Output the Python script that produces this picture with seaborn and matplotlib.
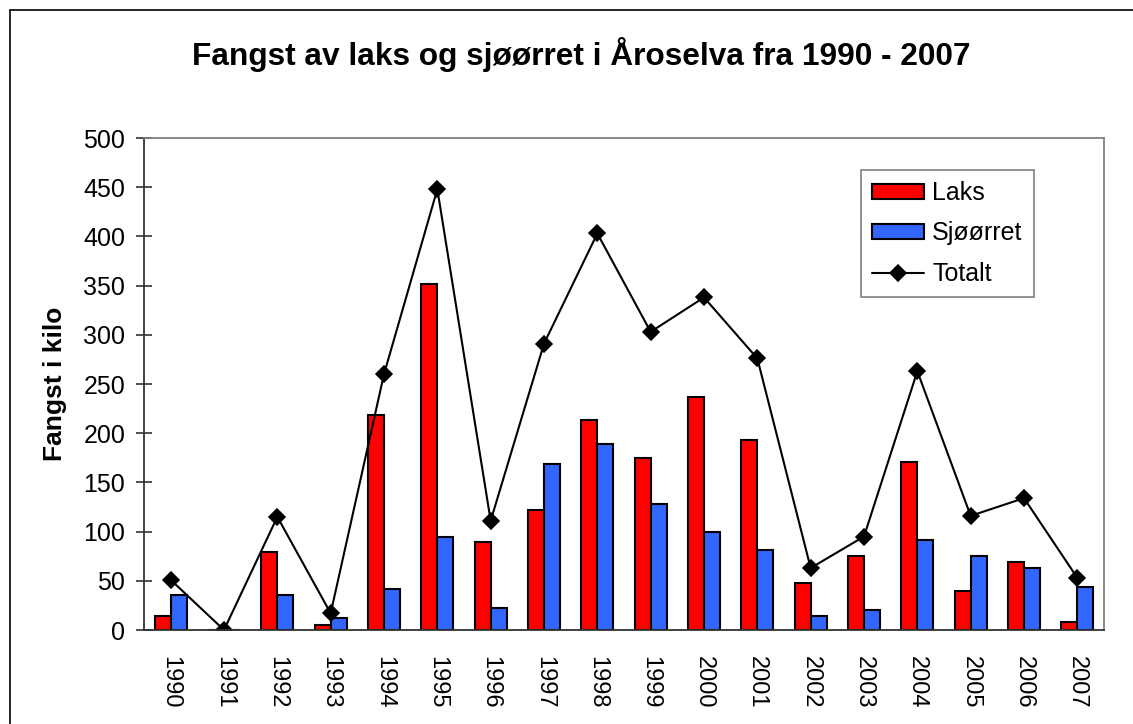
import pandas as pd
import matplotlib.pyplot as plt
import seaborn as sns
from matplotlib.lines import Line2D

# ---- data (kilo) ----
years = [str(y) for y in range(1990, 2008)]
laks = [14, 0, 79, 5, 218, 352, 89, 122, 213, 175, 237, 193, 48, 75, 171, 40, 69, 8]
sjoorret = [36, 0, 36, 12, 42, 95, 22, 169, 189, 128, 100, 81, 14, 20, 91, 75, 63, 44]
totalt = [51, 0, 115, 17, 260, 448, 111, 291, 403, 303, 338, 276, 63, 95, 263, 116, 134, 53]

df = pd.DataFrame({
    "year": years * 2,
    "art": ["Laks"] * len(years) + ["Sjøørret"] * len(years),
    "kilo": laks + sjoorret,
})

sns.set_theme(style="white")
plt.rcParams["font.family"] = ["Liberation Sans", "DejaVu Sans"]
plt.rcParams["text.color"] = "black"
plt.rcParams["axes.labelcolor"] = "black"
plt.rcParams["xtick.color"] = "black"
plt.rcParams["ytick.color"] = "black"

fig = plt.figure(figsize=(11.33, 7.24), dpi=100)
ax = fig.add_axes([144 / 1133, 1 - 630 / 724, 960 / 1133, 492 / 724])

sns.barplot(data=df, x="year", y="kilo", hue="art",
            palette={"Laks": "#FF0000", "Sjøørret": "#3366FF"},
            width=0.6, gap=0, edgecolor="black", linewidth=1.5,
            saturation=1, errorbar=None, ax=ax)
sns.pointplot(x=years, y=totalt, color="black", marker="D", markersize=8.5,
              linewidth=1.5, errorbar=None, label="Totalt", ax=ax)

ax.set_xlim(-0.5, 17.5)
ax.set_ylim(0, 500)
ax.set_yticks(range(0, 501, 50))
ax.set_xlabel("")
ax.set_ylabel("Fangst i kilo", fontsize=19, fontweight="bold", labelpad=12)

# category ticks: labels centred, tick marks between categories
ax.tick_params(axis="x", which="major", length=0, pad=19, labelsize=17, labelrotation=-90)
ax.set_xticks([i - 0.5 for i in range(len(years) + 1)], minor=True)
ax.tick_params(axis="x", which="minor", direction="inout", length=11, width=1.2, color="#555555")
ax.tick_params(axis="y", direction="inout", length=11, width=1.2, color="#333333",
               pad=8, labelsize=18, left=True)
for lab in ax.get_xticklabels():
    lab.set_verticalalignment("top")

for side in ["left", "bottom"]:
    ax.spines[side].set_color("#333333")
    ax.spines[side].set_linewidth(1.3)
for side in ["top", "right"]:
    ax.spines[side].set_color("#808080")
    ax.spines[side].set_linewidth(1.3)

ax.legend(loc="upper right", bbox_to_anchor=(0.927, 0.935), borderaxespad=0,
          fontsize=18, frameon=True, fancybox=False, edgecolor="#808080",
          framealpha=1, handlelength=2.1, handleheight=0.56, borderpad=0.45,
          labelspacing=0.65, handletextpad=0.32)
ax.get_legend().get_frame().set_linewidth(1.2)

fig.text(581 / 1133, 1 - 55 / 724, "Fangst av laks og sjøørret i Åroselva fra 1990 - 2007",
         ha="center", va="center", fontsize=22.8, fontweight="bold")

# chart area frame
fig.add_artist(Line2D([10 / 1133, 10 / 1133], [-0.1, 1 - 10 / 724], color="black", lw=1.2))
fig.add_artist(Line2D([10 / 1133, 1.1], [1 - 10 / 724, 1 - 10 / 724], color="black", lw=1.2))

plt.savefig("out.png", dpi=100)
